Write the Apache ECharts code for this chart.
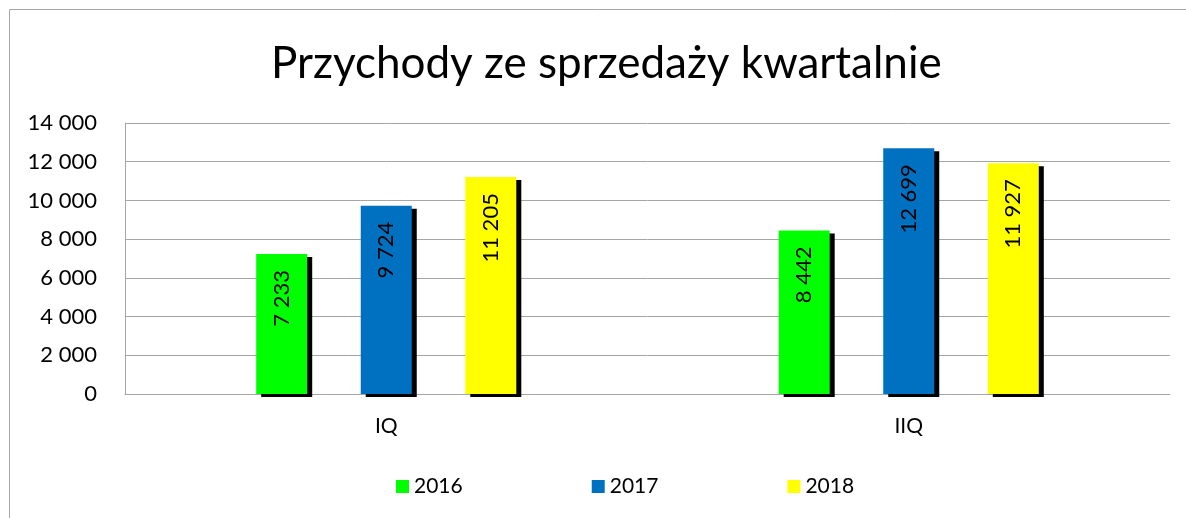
<!DOCTYPE html>
<html><head><meta charset="utf-8">
<script src="https://cdn.jsdelivr.net/npm/echarts@6/dist/echarts.min.js"></script>
<style>html,body{margin:0;padding:0;background:#fff}#c{width:1186px;height:518px}</style>
</head><body><div id="c"></div>
<script>
const categories = ['IQ', 'IIQ'];
const years = ['2016', '2017', '2018'];
const values2016 = [7233, 8442];
const values2017 = [9724, 12699];
const values2018 = [11205, 11927];
const colors = ['#00ff00', '#0070c0', '#ffff00'];
const yTicks = [0, 2000, 4000, 6000, 8000, 10000, 12000, 14000];

const fmt = v => String(v).replace(/\B(?=(\d{3})+(?!\d))/g, ' ');
const FONT = 'Lato, "Open Sans", sans-serif';
const seriesData = [values2016, values2017, values2018];

const chart = echarts.init(document.getElementById('c'));
chart.setOption({
  animation: false,
  textStyle: { fontFamily: FONT },
  graphic: [{
    type: 'rect', shape: { x: 9.5, y: 9.5, width: 1300, height: 700 },
    style: { fill: 'none', stroke: '#a6a6a6', lineWidth: 1 }, z: -10, silent: true
  }],
  title: {
    text: 'Przychody ze sprzedaży kwartalnie', left: 266, top: 37,
    textStyle: { fontFamily: FONT, fontSize: 44, fontWeight: 'normal', color: '#000' }
  },
  legend: {
    bottom: 16, left: 391, itemWidth: 13, itemHeight: 13, itemGap: 129,
    icon: 'rect',
    textStyle: { fontFamily: FONT, fontSize: 21, color: '#000' },
    data: years
  },
  grid: { left: 125, right: 16, top: 123, bottom: 124 },
  xAxis: {
    type: 'category', data: categories,
    axisLine: { show: true, lineStyle: { color: '#a6a6a6', width: 1 } },
    axisTick: { show: false },
    axisLabel: { fontFamily: FONT, fontSize: 21, color: '#000', margin: 22 }
  },
  yAxis: {
    type: 'value', min: yTicks[0], max: yTicks[yTicks.length - 1], interval: 2000,
    axisLine: { show: true, lineStyle: { color: '#a6a6a6', width: 1 } },
    axisTick: { show: false },
    splitLine: { lineStyle: { color: '#a6a6a6', width: 1 } },
    axisLabel: { fontFamily: FONT, fontSize: 22, color: '#000', margin: 28, formatter: v => fmt(v) }
  },
  series: years.map((y, i) => ({
    name: y, type: 'bar', data: seriesData[i],
    barWidth: 51, barGap: '105%', barCategoryGap: '50%',
    itemStyle: {
      color: colors[i], shadowColor: '#000', shadowBlur: 0, shadowOffsetX: 5, shadowOffsetY: 3
    },
    label: {
      show: true, position: 'insideTop', rotate: 90, align: 'right', verticalAlign: 'middle',
      distance: 16, fontFamily: FONT, fontSize: 22, color: '#000',
      formatter: p => fmt(p.value)
    }
  }))
});
</script></body></html>
